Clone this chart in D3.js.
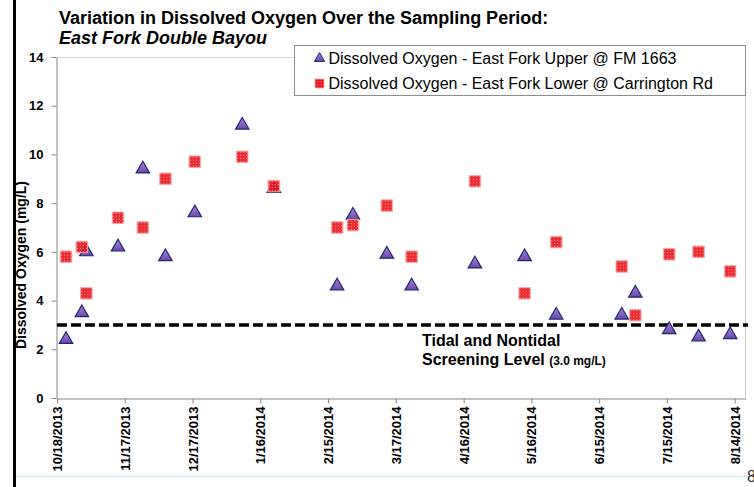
<!DOCTYPE html>
<meta charset="utf-8">
<script src="https://d3js.org/d3.v7.min.js"></script>
<style>
  body { margin: 0; background: #fff; }
  svg { font-family: "Liberation Sans", Arial, sans-serif; display: block; }
</style>
<div id="chart"></div>
<script>
// sampling dates and dissolved oxygen readings (mg/L)
var dates = ["10/22/2013","10/29/2013","10/31/2013","11/14/2013","11/25/2013","12/5/2013","12/18/2013",
  "1/8/2014","1/22/2014","2/19/2014","2/26/2014","3/13/2014","3/24/2014","4/21/2014","5/13/2014",
  "5/27/2014","6/25/2014","7/1/2014","7/16/2014","7/29/2014","8/12/2014"];
var upperDO = [2.4, 3.5, 6.0, 6.2, 9.4, 5.8, 7.6, 11.2, 8.6, 4.6, 7.5, 5.9, 4.6, 5.5, 5.8, 3.4, 3.4, 4.3, 2.8, 2.5, 2.6];
var lowerDO = [5.8, 6.2, 4.3, 7.4, 7.0, 9.0, 9.7, 9.9, 8.7, 7.0, 7.1, 7.9, 5.8, 8.9, 4.3, 6.4, 5.4, 3.4, 5.9, 6.0, 5.2];
var yTicks = [0, 2, 4, 6, 8, 10, 12, 14];
var screening = 3.0;
var seriesNames = ["Dissolved Oxygen - East Fork Upper @ FM 1663",
                   "Dissolved Oxygen - East Fork Lower @ Carrington Rd"];

var W = 754, H = 487;
var margin = {top: 57, right: 8, bottom: 89, left: 57};
var width = W - margin.left - margin.right,
    height = H - margin.top - margin.bottom;

var parse = d3.utcParse("%m/%d/%Y");
var start = parse("10/18/2013");
var end = d3.utcDay.offset(start, 305);

var x = d3.scaleUtc().domain([start, end]).range([0, width]);
var y = d3.scaleLinear().domain([0, 14]).range([height, 0]);

var svg = d3.select("#chart").append("svg")
  .attr("width", W).attr("height", H);

// slide decorations
svg.append("line").attr("x1", 14.5).attr("x2", 14.5).attr("y1", 0).attr("y2", H)
  .attr("stroke", "#000").attr("stroke-width", 3);
svg.append("line").attr("x1", 16).attr("x2", W).attr("y1", 476.5).attr("y2", 476.5)
  .attr("stroke", "#9fe3ef").attr("stroke-width", 1).attr("stroke-dasharray", "1,1");
svg.append("text").attr("x", 747).attr("y", 482).attr("font-size", 16).attr("fill", "#333").text("8");

var defs = svg.append("defs");
var pat = defs.append("pattern").attr("id", "redpat").attr("patternUnits", "userSpaceOnUse")
  .attr("width", 3).attr("height", 3);
pat.append("rect").attr("width", 3).attr("height", 3).attr("fill", "#e8161b");
pat.append("rect").attr("x", 1).attr("y", 1).attr("width", 1).attr("height", 1).attr("fill", "#f58a8a");
var grad = defs.append("linearGradient").attr("id", "purp").attr("x1", 0).attr("y1", 0).attr("x2", 0).attr("y2", 1);
grad.append("stop").attr("offset", "0%").attr("stop-color", "#a985d8");
grad.append("stop").attr("offset", "100%").attr("stop-color", "#6a48a8");

var g = svg.append("g").attr("transform", "translate(" + margin.left + "," + margin.top + ")");

// frame: light top and right edges
g.append("line").attr("x1", 0).attr("x2", width).attr("y1", 0.5).attr("y2", 0.5).attr("stroke", "#d9d9d9");
g.append("line").attr("x1", width - 0.5).attr("x2", width - 0.5).attr("y1", 0).attr("y2", height).attr("stroke", "#c8c8c8");

// y axis
var yAxis = g.append("g").attr("transform", "translate(-0.5,0)")
  .call(d3.axisLeft(y).tickValues(yTicks).tickSize(5).tickPadding(8).tickSizeOuter(0));
yAxis.select(".domain").attr("stroke", "#868686");
yAxis.selectAll(".tick line").attr("stroke", "#868686");
yAxis.selectAll("text").attr("font-size", 13).attr("font-weight", "bold").attr("fill", "#000")
  .attr("font-family", "Liberation Sans, Arial, sans-serif");

// x axis, a tick every 30 days
var xTicks = d3.range(0, 301, 30).map(function(d) { return d3.utcDay.offset(start, d); });
var fmt = d3.utcFormat("%-m/%-d/%Y");
var xAxis = g.append("g").attr("transform", "translate(0," + (height + 0.5) + ")")
  .call(d3.axisBottom(x).tickValues(xTicks).tickFormat(fmt).tickSize(5).tickSizeOuter(0));
xAxis.select(".domain").attr("stroke", "#868686");
xAxis.selectAll(".tick line").attr("stroke", "#868686");
xAxis.selectAll("text")
  .attr("font-size", 13).attr("font-weight", "bold").attr("fill", "#000")
  .attr("font-family", "Liberation Sans, Arial, sans-serif")
  .attr("text-anchor", "end")
  .attr("transform", "rotate(-90)")
  .attr("x", -8).attr("y", 0).attr("dy", "0.35em");

// screening level
g.append("line").attr("x1", 0).attr("x2", width + 2)
  .attr("y1", y(screening)).attr("y2", y(screening))
  .attr("stroke", "#000").attr("stroke-width", 3.5).attr("stroke-dasharray", "10,4");
var lab = g.append("text").attr("x", 365).attr("y", y(screening) + 21)
  .attr("font-size", 16).attr("font-weight", "bold");
lab.append("tspan").text("Tidal and Nontidal");
lab.append("tspan").attr("x", 365).attr("dy", 19).text("Screening Level ");
lab.append("tspan").attr("font-size", 12).text("(3.0 mg/L)");

var tri = d3.symbol().type(d3.symbolTriangle).size(78);
var sq = d3.symbol().type(d3.symbolSquare).size(132);

var upperPts = dates.map(function(d, i) { return {date: parse(d), v: upperDO[i]}; });
var lowerPts = dates.map(function(d, i) { return {date: parse(d), v: lowerDO[i]}; });

g.selectAll(".up").data(upperPts).enter().append("path")
  .attr("class", "up")
  .attr("d", tri)
  .attr("transform", function(d) { return "translate(" + x(d.date) + "," + y(d.v) + ")"; })
  .attr("fill", "url(#purp)").attr("stroke", "#1f2775").attr("stroke-width", 1.2);

g.selectAll(".low").data(lowerPts).enter().append("path")
  .attr("class", "low")
  .attr("d", sq)
  .attr("transform", function(d) { return "translate(" + x(d.date) + "," + y(d.v) + ")"; })
  .attr("fill", "url(#redpat)").attr("fill-opacity", 0.9)
  .attr("stroke", "#f7a8a8").attr("stroke-width", 1);

// y title
svg.append("text")
  .attr("transform", "translate(25.5,265) rotate(-90)")
  .attr("text-anchor", "middle").attr("font-size", 14).attr("font-weight", "bold")
  .text("Dissolved Oxygen (mg/L)");

// chart title
svg.append("text").attr("x", 59).attr("y", 24).attr("font-size", 18).attr("font-weight", "bold")
  .text("Variation in Dissolved Oxygen Over the Sampling Period:");
svg.append("text").attr("x", 59).attr("y", 44).attr("font-size", 18).attr("font-weight", "bold")
  .attr("font-style", "italic").text("East Fork Double Bayou");

// legend
var leg = svg.append("g").attr("transform", "translate(294.5,45.5)");
leg.append("rect").attr("width", 451).attr("height", 50).attr("fill", "#fff").attr("stroke", "#8c8c8c");
var legTri = d3.symbol().type(d3.symbolTriangle).size(45);
var legSq = d3.symbol().type(d3.symbolSquare).size(81);
leg.append("path").attr("d", legTri).attr("transform", "translate(25,13)")
  .attr("fill", "url(#purp)").attr("stroke", "#1f2775").attr("stroke-width", 1);
leg.append("path").attr("d", legSq).attr("transform", "translate(25,38)")
  .attr("fill", "url(#redpat)").attr("stroke", "#f7a8a8").attr("stroke-width", 0.8);
leg.selectAll(".lt").data(seriesNames).enter().append("text")
  .attr("x", 34).attr("y", function(d, i) { return 18 + i * 25; })
  .attr("font-size", 16).text(function(d) { return d; });
</script>
